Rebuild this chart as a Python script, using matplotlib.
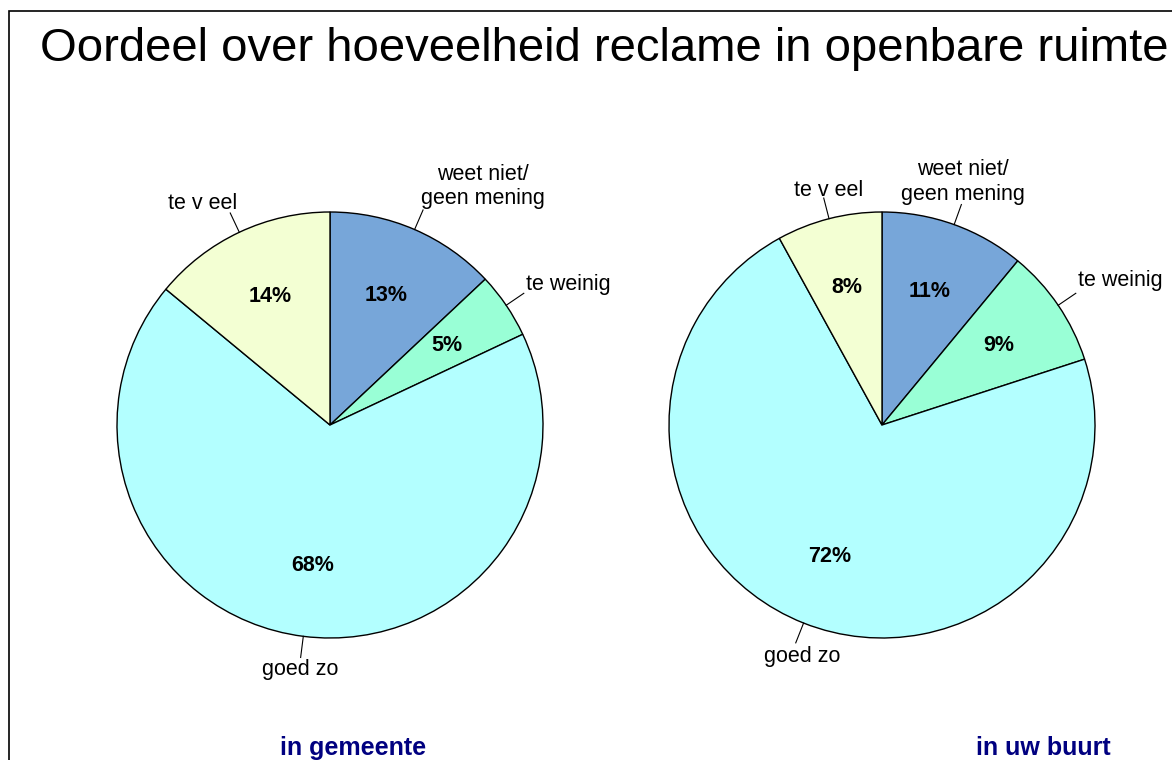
import numpy as np
import matplotlib
matplotlib.use("Agg")
import matplotlib.pyplot as plt
from matplotlib.patches import Rectangle

plt.rcParams['font.family'] = ['Liberation Sans', 'DejaVu Sans']

# data
categories = ['weet niet/\ngeen mening', 'te weinig', 'goed zo', 'te v eel']
gemeente = [13, 5, 68, 14]
buurt = [11, 9, 72, 8]
titles = ['in gemeente', 'in uw buurt']
colors = ['#77A6D9', '#99FFD6', '#B3FFFF', '#F3FFD3']

W, H = 1172, 760
fig = plt.figure(figsize=(W / 100, H / 100), dpi=100)

# frame around the chart (cut off at right and bottom)
fig.patches.append(Rectangle((9 / W, -0.1), 1.2, (H - 11) / H + 0.1,
                             transform=fig.transFigure, fill=False,
                             edgecolor='black', linewidth=1.2))

fig.text(604 / W, 1 - 61 / H, 'Oordeel over hoeveelheid reclame in openbare ruimte',
         ha='center', va='baseline', fontsize=34)

R = 213
centers = [(330, 425), (882, 425)]
# label text offsets (pixels) and alignment, per pie, per slice
label_pos = [
    [((60, 1), 'center', 'bottom'), ((2, 9), 'left', 'center'),
     ((0, -2), 'center', 'top'), ((-28, -1), 'center', 'bottom')],
    [((2, 0), 'center', 'bottom'), ((2, 13), 'left', 'center'),
     ((6, -3), 'center', 'top'), ((5, -3), 'center', 'bottom')],
]
bottom_x = [353, 1043]

for k, vals in enumerate([gemeente, buurt]):
    cx, cy = centers[k]
    ax = fig.add_axes([(cx - R) / W, (H - cy - R) / H, 2 * R / W, 2 * R / H])
    wedges, texts, autotexts = ax.pie(
        vals, colors=colors, startangle=90, counterclock=False, radius=1,
        autopct='%d%%', pctdistance=0.665,
        wedgeprops=dict(edgecolor='black', linewidth=1.0),
        textprops=dict(fontsize=15.5, fontweight='bold'))
    ax.set_xlim(-1, 1)
    ax.set_ylim(-1, 1)
    ax.set_aspect('equal')
    ax.axis('off')
    for i, w in enumerate(wedges):
        ang = np.deg2rad((w.theta1 + w.theta2) / 2)
        x0, y0 = np.cos(ang), np.sin(ang)
        ax.plot([x0, 1.1 * x0], [y0, 1.1 * y0], color='black', lw=0.8, clip_on=False)
        off, ha, va = label_pos[k][i]
        ax.annotate(categories[i], xy=(1.1 * x0, 1.1 * y0), xytext=off,
                    textcoords='offset pixels', ha=ha, va=va, fontsize=15.5,
                    multialignment='center', linespacing=1.2,
                    annotation_clip=False)
    fig.text(bottom_x[k] / W, 1 - 755 / H, titles[k], ha='center', va='baseline',
             fontsize=18, fontweight='bold', color='#000080')

fig.savefig('out.png', dpi=100)
